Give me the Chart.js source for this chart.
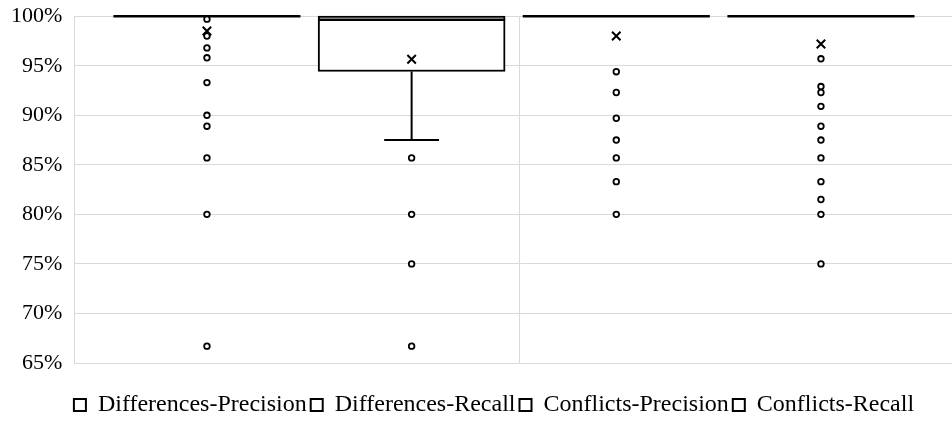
<!DOCTYPE html>
<html>
<head>
<meta charset="utf-8">
<script src="https://cdn.jsdelivr.net/npm/chart.js@4.4.0/dist/chart.umd.min.js"></script>
<style>
  html, body { margin: 0; padding: 0; background: #fff; overflow: hidden; }
  #wrap { width: 980px; height: 427px; }
</style>
</head>
<body>
<div id="wrap"><canvas id="chart" width="980" height="427"></canvas></div>
<script>
// Données (en %)
const series = ['Differences-Precision', 'Differences-Recall', 'Conflicts-Precision', 'Conflicts-Recall'];
const q1 = [100, 94.42, 100, 100];
const median = [100, 99.64, 100, 100];
const q3 = [100, 100, 100, 100];
const whiskerLow = [100, 87.5, 100, 100];
const whiskerHigh = [100, 100, 100, 100];
const means = [98.5, 95.65, 98.0, 97.2];
const outliers = [
    [99.7, 98.0, 96.8, 95.8, 93.3, 90.0, 88.9, 85.7, 80.0, 66.7],
    [85.7, 80.0, 75.0, 66.7],
    [94.4, 92.3, 89.7, 87.5, 85.7, 83.3, 80.0],
    [95.7, 92.9, 92.3, 90.9, 88.9, 87.5, 85.7, 83.3, 81.5, 80.0, 75.0]
];
const yTicks = [65, 70, 75, 80, 85, 90, 95, 100];

// Axe x : une position par série, séparation entre les deux groupes
const X_MIN = 0.352, X_MAX = 4.738, X_SPLIT = 2.528;
const BOX_HALF = 0.457;   // demi-largeur de boîte (unités x)
const CAP_HALF = 0.134;   // demi-largeur des moustaches

Chart.defaults.font.family = "'Liberation Serif', 'Times New Roman', serif";
Chart.defaults.font.size = 22;
Chart.defaults.color = '#000';

// Segments : médianes et moustaches, séparés par des trous (y null)
const medianPts = [];
const whiskerPts = [];
series.forEach((s, i) => {
    const x = i + 1;
    medianPts.push({ x: x - BOX_HALF, y: median[i] }, { x: x + BOX_HALF, y: median[i] }, { x: x + 0.5, y: null });
    if (whiskerLow[i] < q1[i]) {
        whiskerPts.push({ x: x, y: q1[i] }, { x: x, y: whiskerLow[i] }, { x: x, y: null });
        whiskerPts.push({ x: x - CAP_HALF, y: whiskerLow[i] }, { x: x + CAP_HALF, y: whiskerLow[i] }, { x: x + 0.5, y: null });
    }
    if (whiskerHigh[i] > q3[i]) {
        whiskerPts.push({ x: x, y: q3[i] }, { x: x, y: whiskerHigh[i] }, { x: x, y: null });
        whiskerPts.push({ x: x - CAP_HALF, y: whiskerHigh[i] }, { x: x + CAP_HALF, y: whiskerHigh[i] }, { x: x + 0.5, y: null });
    }
});

const boxDatasets = series.map((s, i) => ({
    type: 'bar',
    label: s,
    data: [{ x: i + 1, y: [q1[i], q3[i]] }],
    backgroundColor: '#fff',
    borderColor: '#000',
    borderWidth: 2,
    borderSkipped: false,
    barThickness: 187,
    grouped: false,
    clip: false,
    order: 5
}));

const ctx = document.getElementById('chart').getContext('2d');
new Chart(ctx, {
    type: 'bar',
    data: {
        datasets: [
            ...boxDatasets,
            {
                type: 'line',
                label: 'median',
                data: medianPts,
                borderColor: '#000',
                borderWidth: 2.6,
                pointRadius: 0,
                spanGaps: false,
                clip: false,
                order: 2
            },
            {
                type: 'line',
                label: 'whiskers',
                data: whiskerPts,
                borderColor: '#000',
                borderWidth: 2,
                pointRadius: 0,
                spanGaps: false,
                clip: false,
                order: 2
            },
            {
                type: 'scatter',
                label: 'mean',
                data: means.map((m, i) => ({ x: i + 1, y: m })),
                pointStyle: 'crossRot',
                pointRadius: 6,
                borderColor: '#000',
                borderWidth: 2,
                clip: false,
                order: 1
            },
            {
                type: 'scatter',
                label: 'outliers',
                data: outliers.flatMap((arr, i) => arr.map(v => ({ x: i + 1, y: v }))),
                pointStyle: 'circle',
                pointRadius: 2.8,
                backgroundColor: '#fff',
                borderColor: '#000',
                borderWidth: 1.8,
                clip: false,
                order: 1
            }
        ]
    },
    options: {
        responsive: false,
        animation: false,
        layout: { padding: { top: 0, left: 8, right: 0, bottom: 0 } },
        scales: {
            x: {
                type: 'linear',
                min: X_MIN,
                max: X_MAX,
                offset: false,
                bounds: 'data',
                ticks: { display: false },
                afterBuildTicks: scale => { scale.ticks = [{ value: X_SPLIT }]; },
                afterFit: scale => { scale.height = 26; },
                grid: { color: '#d9d9d9', drawTicks: false, offset: false },
                border: { display: false }
            },
            y: {
                min: 65,
                max: 100,
                afterBuildTicks: scale => { scale.ticks = yTicks.map(v => ({ value: v })); },
                ticks: {
                    padding: 3,
                    callback: v => v + '%'
                },
                grid: { color: '#d9d9d9', drawTicks: true, tickLength: 9, tickColor: 'rgba(0,0,0,0)' },
                border: { color: '#d9d9d9' }
            }
        },
        plugins: {
            tooltip: { enabled: false },
            legend: {
                position: 'bottom',
                labels: {
                    boxWidth: 12,
                    boxHeight: 12,
                    padding: 4,
                    font: { size: 24 },
                    filter: item => item.datasetIndex < series.length
                }
            }
        }
    }
});
</script>
</body>
</html>
